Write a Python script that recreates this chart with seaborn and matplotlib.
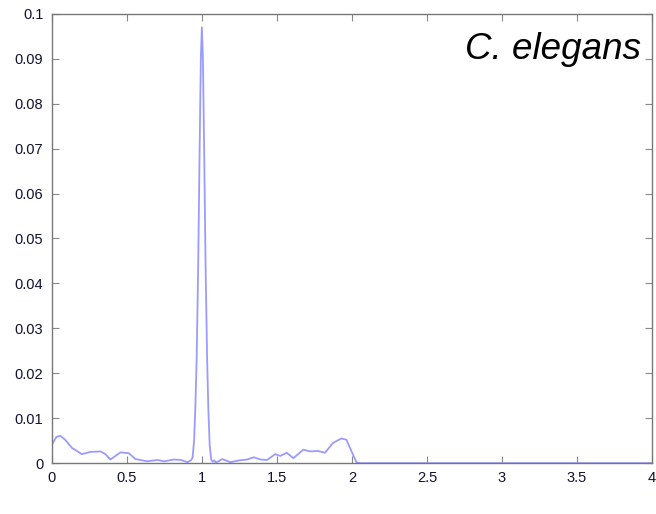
import matplotlib
matplotlib.use("Agg")
import matplotlib.pyplot as plt
import seaborn as sns
import pandas as pd

freq = [0.0, 0.03, 0.056, 0.089, 0.134, 0.2, 0.257, 0.324, 0.357, 0.39, 0.424, 0.458,
        0.513, 0.558, 0.636, 0.703, 0.748, 0.815, 0.86, 0.904, 0.926, 0.938, 0.948,
        0.957, 0.965, 0.975, 0.985, 0.993, 1.0, 1.007, 1.015, 1.025, 1.035, 1.043,
        1.052, 1.062, 1.072, 1.083, 1.093, 1.137, 1.19, 1.247,
        1.30, 1.346, 1.39, 1.434, 1.489, 1.522, 1.566, 1.61, 1.676, 1.72, 1.775, 1.82,
        1.874, 1.93, 1.963, 1.996, 2.03, 2.05, 2.5, 3.0, 3.5, 4.0]
power = [0.0041, 0.0058, 0.0061, 0.0052, 0.0034, 0.002, 0.0025, 0.0026, 0.002, 0.0008,
         0.0016, 0.0024, 0.0022, 0.0009, 0.0004, 0.0007, 0.0004, 0.0008, 0.0007, 0.0002,
         0.0006, 0.0012, 0.005, 0.013, 0.023, 0.043, 0.07, 0.09, 0.097, 0.09, 0.07,
         0.043, 0.023, 0.012, 0.004, 0.0008, 0.0003, 0.0006, 0.0001, 0.0009, 0.0002,
         0.0006, 0.0008, 0.0013, 0.0008, 0.0007, 0.002,
         0.0016, 0.0023, 0.0011, 0.003, 0.0026, 0.0027, 0.0023, 0.0045, 0.0055, 0.0052,
         0.0027, 0.0002, 0.0, 0.0, 0.0, 0.0, 0.0]

xticks = [0, 0.5, 1, 1.5, 2, 2.5, 3, 3.5, 4]
xticklabels = ["0", "0.5", "1", "1.5", "2", "2.5", "3", "3.5", "4"]
yticks = [0, 0.01, 0.02, 0.03, 0.04, 0.05, 0.06, 0.07, 0.08, 0.09, 0.1]
yticklabels = ["0", "0.01", "0.02", "0.03", "0.04", "0.05", "0.06", "0.07", "0.08", "0.09", "0.1"]
label = "C. elegans"

sns.set_style("white")
plt.rcParams['font.family'] = ['Liberation Sans', 'DejaVu Sans']

df = pd.DataFrame({"freq": freq, "power": power})
fig = plt.figure(figsize=(6.56, 5.14), dpi=100)
ax = fig.add_axes([0.079, 0.099, 0.915, 0.874])
sns.lineplot(data=df, x="freq", y="power", ax=ax, color="#9b9bff", linewidth=1.3,
             estimator=None, sort=False)
ax.set_xlim(0, 4)
ax.set_ylim(0, 0.1)
ax.set_xticks(xticks)
ax.set_xticklabels(xticklabels)
ax.set_yticks(yticks)
ax.set_yticklabels(yticklabels)
ax.set_xlabel("")
ax.set_ylabel("")
ax.tick_params(direction="in", length=5, width=0.8, colors="#888888",
               labelcolor="#111133", labelsize=10.5, pad=6, top=True, right=True,
               bottom=True, left=True)
for s in ax.spines.values():
    s.set_color("#777777")
    s.set_linewidth(1.0)
ax.text(0.982, 0.96, label, transform=ax.transAxes, ha="right", va="top",
        fontsize=26.5, style="italic", color="black")
fig.savefig("out.png", dpi=100)
